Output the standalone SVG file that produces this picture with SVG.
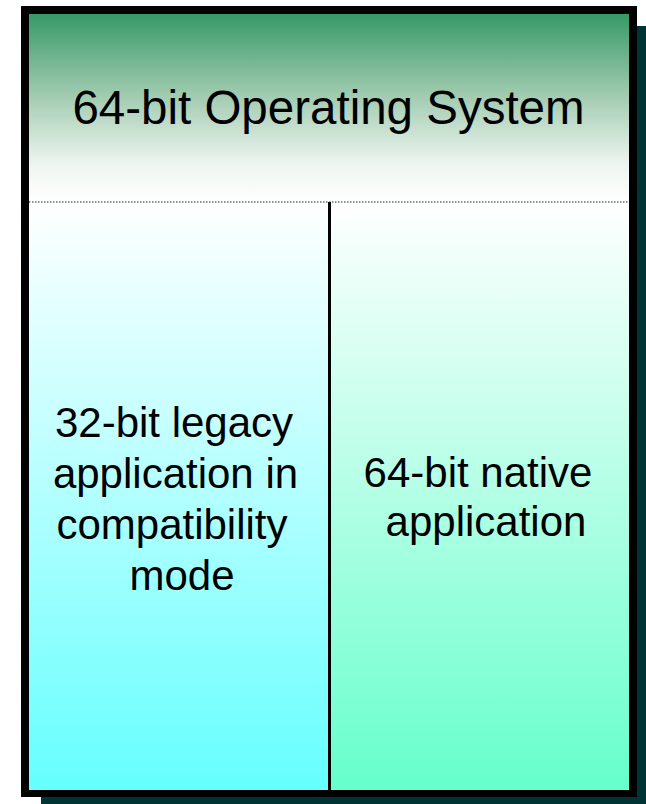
<svg xmlns="http://www.w3.org/2000/svg" width="646" height="804" viewBox="0 0 646 804">
  <defs>
    <linearGradient id="gHead" x1="0" y1="0" x2="0" y2="1">
      <stop offset="0" stop-color="#379966"/>
      <stop offset="0.45" stop-color="#a5cdb3"/>
      <stop offset="0.8" stop-color="#eef5f0"/>
      <stop offset="1" stop-color="#ffffff"/>
    </linearGradient>
    <linearGradient id="gLeft" x1="0" y1="0" x2="0" y2="1">
      <stop offset="0" stop-color="#ffffff"/>
      <stop offset="1" stop-color="#66ffff"/>
    </linearGradient>
    <linearGradient id="gRight" x1="0" y1="0" x2="0" y2="1">
      <stop offset="0" stop-color="#ffffff"/>
      <stop offset="1" stop-color="#66ffcc"/>
    </linearGradient>
  </defs>
  <style>
    text { font-family: "Liberation Sans", Arial, sans-serif; fill: #000000; text-anchor: middle; }
    .head { font-size: 47.5px; }
    .body { font-size: 42px; }
  </style>
  <rect width="646" height="804" fill="#ffffff"/>
  <g id="frame">
    <rect x="41" y="26" width="616" height="791" fill="#003333"/>
    <rect x="21" y="6" width="616" height="791" fill="#000000"/>
  </g>
  <g id="os-header">
    <rect x="29" y="14" width="600" height="188" fill="url(#gHead)"/>
    <text class="head" x="328.5" y="124">64-bit Operating System</text>
  </g>
  <g id="legacy-app">
    <rect x="29" y="202" width="300" height="588" fill="url(#gLeft)"/>
    <text class="body" x="174" y="437">32-bit legacy</text>
    <text class="body" x="175.5" y="488">application in</text>
    <text class="body" x="172" y="539">compatibility</text>
    <text class="body" x="182" y="590">mode</text>
  </g>
  <g id="native-app">
    <rect x="329" y="202" width="300" height="588" fill="url(#gRight)"/>
    <text class="body" x="478" y="487">64-bit native</text>
    <text class="body" x="486" y="536">application</text>
  </g>
  <g id="connectors">
    <line x1="29" y1="202" x2="629" y2="202" stroke="#222222" stroke-width="1" stroke-dasharray="1.5 1.5"/>
    <line x1="329.5" y1="202" x2="329.5" y2="790" stroke="#000000" stroke-width="3"/>
  </g>
</svg>
